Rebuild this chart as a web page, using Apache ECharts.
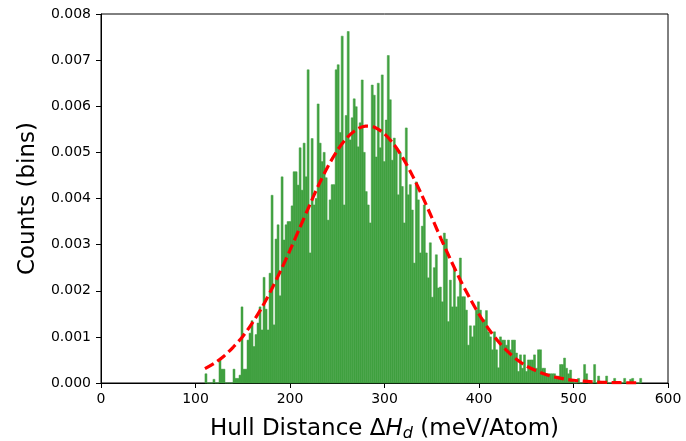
<!DOCTYPE html>
<html><head><meta charset="utf-8">
<script src="https://cdn.jsdelivr.net/npm/echarts@6/dist/echarts.min.js"></script>
<style>html,body{margin:0;padding:0;background:#fff}#c{width:686px;height:441px}</style>
</head><body><div id="c"></div>
<script>
// Histogram definition
const binStart = 110;      // meV/atom
const binWidth = 2.12;     // meV/atom
// bin heights, in units of 1e-3
const countsE3 = [
0.20,0,0,0,0.08,0,0,0.50,0.30,0.30,
0,0,0,0,0.30,0.10,0.10,0.17,1.65,0.30,
0.30,0.93,1.08,1.35,0.79,1.05,1.30,1.65,1.15,2.29,
1.60,1.15,2.38,4.07,1.26,3.12,3.43,1.89,4.47,3.10,
3.43,3.50,3.50,3.84,4.58,4.58,4.29,5.10,4.18,5.20,
4.47,6.79,2.82,5.30,3.86,4.00,6.05,5.20,4.80,5.00,
4.45,3.53,3.97,4.30,4.30,6.79,6.90,5.43,7.52,3.86,
5.80,7.62,5.27,5.75,6.16,5.99,5.12,5.64,6.57,5.00,
4.15,3.86,3.47,6.46,6.24,4.90,6.50,5.10,6.68,4.80,
5.70,7.10,6.14,4.83,5.31,5.10,4.08,4.99,4.26,3.47,
5.53,4.08,4.30,3.75,2.60,4.36,3.97,2.82,3.40,3.86,
2.82,2.28,3.04,1.86,2.50,2.78,2.06,2.08,1.76,3.25,
3.12,1.33,2.23,1.65,2.49,1.65,1.87,2.71,1.87,1.87,
1.58,0.82,1.24,1.00,1.24,1.58,1.76,1.58,1.37,1.37,
1.57,1.11,1.00,0.72,1.11,0.72,0.33,1.00,0.93,0.93,
0.82,0.93,0.72,0.93,0.93,0.65,0.25,0.61,0.32,0.61,
0.25,0.50,0.50,0.50,0.61,0.32,0.72,0.72,0.32,0.32,
0.20,0.20,0.20,0.20,0.20,0.15,0.15,0.40,0.40,0.54,
0.32,0.20,0.28,0.07,0,0,0.10,0,0,0.40,
0.20,0,0,0,0.40,0,0.15,0,0,0,
0.15,0,0,0,0.10,0,0,0,0,0.10,
0,0,0.08,0.10,0,0,0,0.10
];
// Fitted normal curve (values in units of 1e-3)
const fitX = [110,120,130,140,150,160,170,180,190,200,210,220,230,240,250,260,270,280,290,300,310,320,330,340,350,360,370,380,390,400,410,420,430,440,450,460,470,480,490,500,510,520,530,540,550,560,570];
const fitYE3 = [0.31,0.43,0.58,0.78,1.01,1.30,1.63,2.01,2.43,2.88,3.35,3.82,4.28,4.69,5.04,5.31,5.49,5.57,5.54,5.40,5.17,4.86,4.48,4.05,3.59,3.12,2.67,2.24,1.85,1.49,1.18,0.91,0.69,0.51,0.37,0.27,0.19,0.13,0.089,0.059,0.039,0.025,0.016,0.010,0.006,0.004,0.002];
const xTicks = [0,100,200,300,400,500,600];
const yTicks = [0,0.001,0.002,0.003,0.004,0.005,0.006,0.007,0.008];

const histData = countsE3.map((v, i) => [binStart + i * binWidth, binStart + (i + 1) * binWidth, v / 1000]);
const fitData = fitX.map((x, i) => [x, fitYE3[i] / 1000]);

const font = 'DejaVu Sans';
const chart = echarts.init(document.getElementById('c'), null, {renderer: 'canvas'});
chart.setOption({
  animation: false,
  backgroundColor: '#fff',
  grid: {left: 101, right: 18, top: 14, bottom: 58, containLabel: false, outerBoundsMode: 'none',
    show: true, borderColor: '#000', borderWidth: 1, backgroundColor: 'transparent'},
  xAxis: {
    type: 'value', min: xTicks[0], max: xTicks[xTicks.length - 1], interval: 100,
    axisLine: {show: true, onZero: false, lineStyle: {color: '#000', width: 1}},
    axisTick: {show: true, inside: false, length: 5, lineStyle: {color: '#000'}},
    axisLabel: {color: '#000', fontSize: 14, fontFamily: font, margin: 9},
    splitLine: {show: false},
    name: 'Hull Distance Δ{i|H}{s|d} (meV/Atom)',
    nameLocation: 'middle', nameGap: 33,
    nameTextStyle: {color: '#000', fontSize: 23, fontFamily: font,
      rich: {
        i: {fontSize: 23, fontStyle: 'italic', fontFamily: font, color: '#000'},
        s: {fontSize: 16, fontStyle: 'italic', fontFamily: font, color: '#000', padding: [10, 0, 0, 0]}
      }}
  },
  yAxis: {
    type: 'value', min: yTicks[0], max: yTicks[yTicks.length - 1], interval: 0.001,
    axisLine: {show: true, lineStyle: {color: '#000', width: 1}},
    axisTick: {show: true, inside: false, length: 5, lineStyle: {color: '#000'}},
    axisLabel: {color: '#000', fontSize: 14, fontFamily: font, margin: 10, formatter: v => v.toFixed(3)},
    splitLine: {show: false},
    name: 'Counts (bins)', nameLocation: 'middle', nameGap: 58,
    nameTextStyle: {color: '#000', fontSize: 23, fontFamily: font}
  },
  series: [
    {
      type: 'custom', z: 2,
      encode: {x: [0, 1], y: 2},
      data: histData,
      renderItem: function (params, api) {
        const p0 = api.coord([api.value(0), api.value(2)]);
        const p1 = api.coord([api.value(1), 0]);
        return {type: 'rect', shape: {x: p0[0], y: p0[1], width: p1[0] - p0[0], height: p1[1] - p0[1]},
          style: {fill: '#40a040', stroke: '#40a040', lineWidth: 0.5}};
      }
    },
    {
      type: 'line', z: 5, data: fitData, smooth: 0.3, showSymbol: false, symbol: 'none',
      lineStyle: {color: '#ff0000', width: 3.2, type: [10, 4.5], cap: 'butt'}
    }
  ]
});
</script></body></html>
